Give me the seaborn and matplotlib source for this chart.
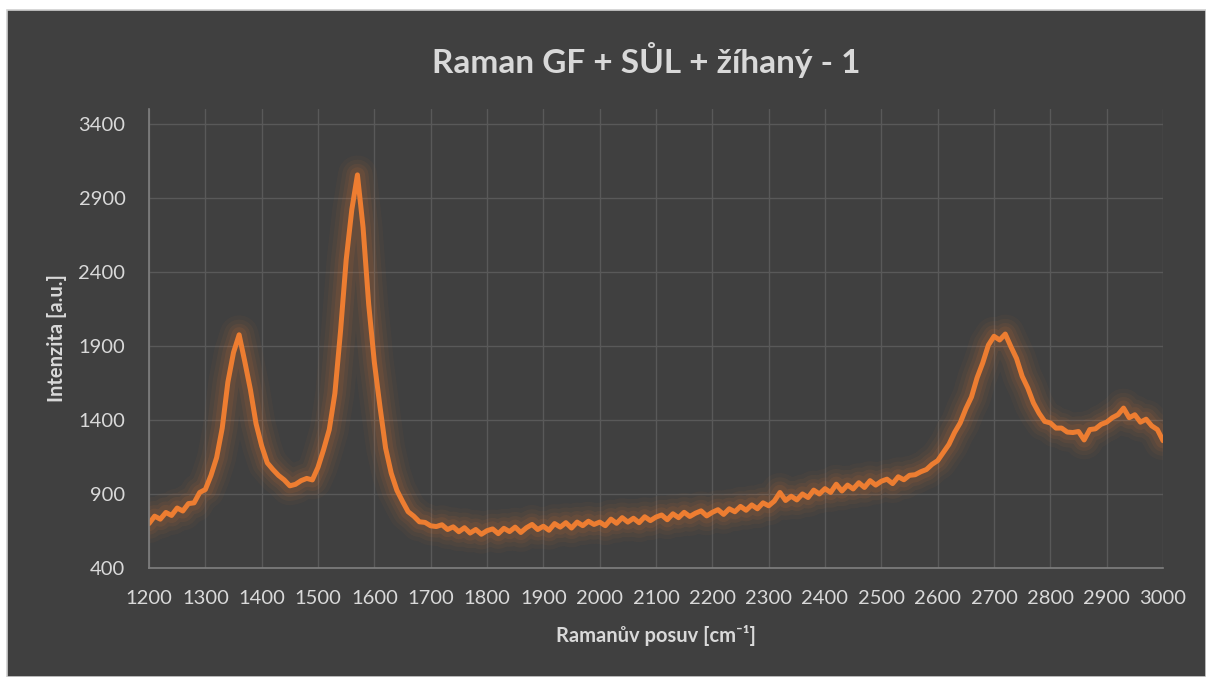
import numpy as np
import pandas as pd
import matplotlib
matplotlib.use('Agg')

import matplotlib.pyplot as plt
import seaborn as sns
from matplotlib.patches import Rectangle

# ================= DATA =================

TITLE = 'Raman GF + SŮL + žíhaný - 1'
X_LABEL = 'Ramanův posuv [cm⁻¹]'
Y_LABEL = 'Intenzita [a.u.]'

# Raman shift sampled every 10 cm-1 from 1200 to 3000
shift = np.arange(1200, 3001, 10)

intensity = [
    700, 750, 730, 775, 755, 805, 785, 835, 840, 910,        # 1200-1290
    930, 1025, 1145, 1345, 1655, 1855, 1975, 1795, 1605, 1375,  # 1300-1390
    1225, 1110, 1065, 1025, 995, 955, 965, 990, 1005, 995,   # 1400-1490
    1080, 1200, 1335, 1580, 2000, 2480, 2820, 3055, 2700, 2180,  # 1500-1590
    1790, 1490, 1210, 1040, 925, 850, 780, 750, 712, 708,    # 1600-1690
    685, 680, 692, 660, 678, 645, 672, 636, 660, 628,        # 1700-1790
    652, 664, 632, 668, 646, 676, 640, 672, 694, 660,        # 1800-1890
    682, 655, 700, 676, 706, 670, 710, 686, 716, 694,        # 1900-1990
    710, 686, 730, 702, 740, 710, 736, 706, 746, 720,        # 2000-2090
    744, 758, 726, 766, 740, 776, 748, 770, 786, 752,        # 2100-2190
    776, 794, 762, 800, 780, 816, 790, 826, 800, 840,        # 2200-2290
    820, 852, 910, 856, 885, 860, 900, 876, 926, 900,        # 2300-2390
    936, 910, 966, 920, 960, 934, 976, 944, 990, 960,        # 2400-2490
    986, 1000, 970, 1016, 996, 1026, 1030, 1050, 1065, 1100,  # 2500-2590
    1125, 1180, 1235, 1315, 1380, 1475, 1555, 1685, 1785, 1905,  # 2600-2690
    1965, 1940, 1980, 1895, 1815, 1695, 1615, 1515, 1445, 1390,  # 2700-2790
    1380, 1345, 1345, 1318, 1315, 1322, 1265, 1335, 1340, 1370,  # 2800-2890
    1385, 1415, 1435, 1480, 1415, 1435, 1385, 1405, 1360, 1335,  # 2900-2990
    1260,                                                    # 3000
]

y_ticks = [400, 900, 1400, 1900, 2400, 2900, 3400]
x_ticks = list(range(1200, 3001, 100))

df = pd.DataFrame({'shift': shift, 'intensity': intensity})

# ================= STYLE =================

BG = '#404040'
GRID = '#595959'
TEXT = '#d9d9d9'
ORANGE = '#ED7D31'

sns.set_theme(style='dark', rc={
    'axes.facecolor': BG,
    'axes.edgecolor': '#808080',
    'axes.grid': True,
    'grid.color': GRID,
    'grid.linewidth': 1.0,
    'xtick.color': TEXT,
    'ytick.color': TEXT,
    'text.color': TEXT,
    'axes.labelcolor': TEXT,
})
plt.rcParams['font.family'] = ['Lato', 'DejaVu Sans']

fig = plt.figure(figsize=(12.06, 6.77), dpi=100, facecolor='white')

# dark chart area with a thin light border
fig.patches.append(Rectangle(
    (7 / 1206, 0), 1 - 7 / 1206, 1 - 10 / 677,
    transform=fig.transFigure, facecolor=BG,
    edgecolor='#d0d0d0', linewidth=1.2, zorder=-5
))

ax = fig.add_axes([149 / 1206, 1 - 568 / 677, 1014 / 1206, 459 / 677])
ax.set_facecolor(BG)
ax.set_zorder(2)

# ================= PLOT =================

# soft glow under the line
for lw, a in [(28, 0.04), (22, 0.05), (16, 0.07), (11, 0.09)]:
    sns.lineplot(data=df, x='shift', y='intensity', ax=ax, color=ORANGE,
                 linewidth=lw, alpha=a, estimator=None, sort=False,
                 solid_joinstyle='round', solid_capstyle='round')

sns.lineplot(data=df, x='shift', y='intensity', ax=ax, color=ORANGE,
             linewidth=3.6, estimator=None, sort=False,
             solid_joinstyle='round', solid_capstyle='round')

ax.set_xlim(1200, 3000)
ax.set_ylim(400, 3500)
ax.set_xticks(x_ticks)
ax.set_yticks(y_ticks)
ax.tick_params(axis='both', length=0, labelsize=14.5, colors=TEXT)
ax.tick_params(axis='x', pad=16)
ax.tick_params(axis='y', pad=17)

ax.grid(True, color=GRID, linewidth=1.0)

for side in ['top', 'right']:
    ax.spines[side].set_visible(False)
for side in ['left', 'bottom']:
    ax.spines[side].set_color('#808080')
    ax.spines[side].set_linewidth(1.2)

ax.set_xlabel(X_LABEL, fontsize=14.5, fontweight='bold', color=TEXT)
ax.set_ylabel(Y_LABEL, fontsize=14.5, fontweight='bold', color=TEXT)
ax.xaxis.label.set_va('center')
ax.yaxis.label.set_va('center')
ax.xaxis.set_label_coords(0.5, (568 - 635) / 459)
ax.yaxis.set_label_coords((57 - 149) / 1014, 0.5)

fig.text(646 / 1206, 1 - 60 / 677, TITLE, ha='center', va='center',
         fontsize=24, fontweight='bold', color=TEXT)

fig.savefig('out.png', dpi=100, facecolor=fig.get_facecolor())
